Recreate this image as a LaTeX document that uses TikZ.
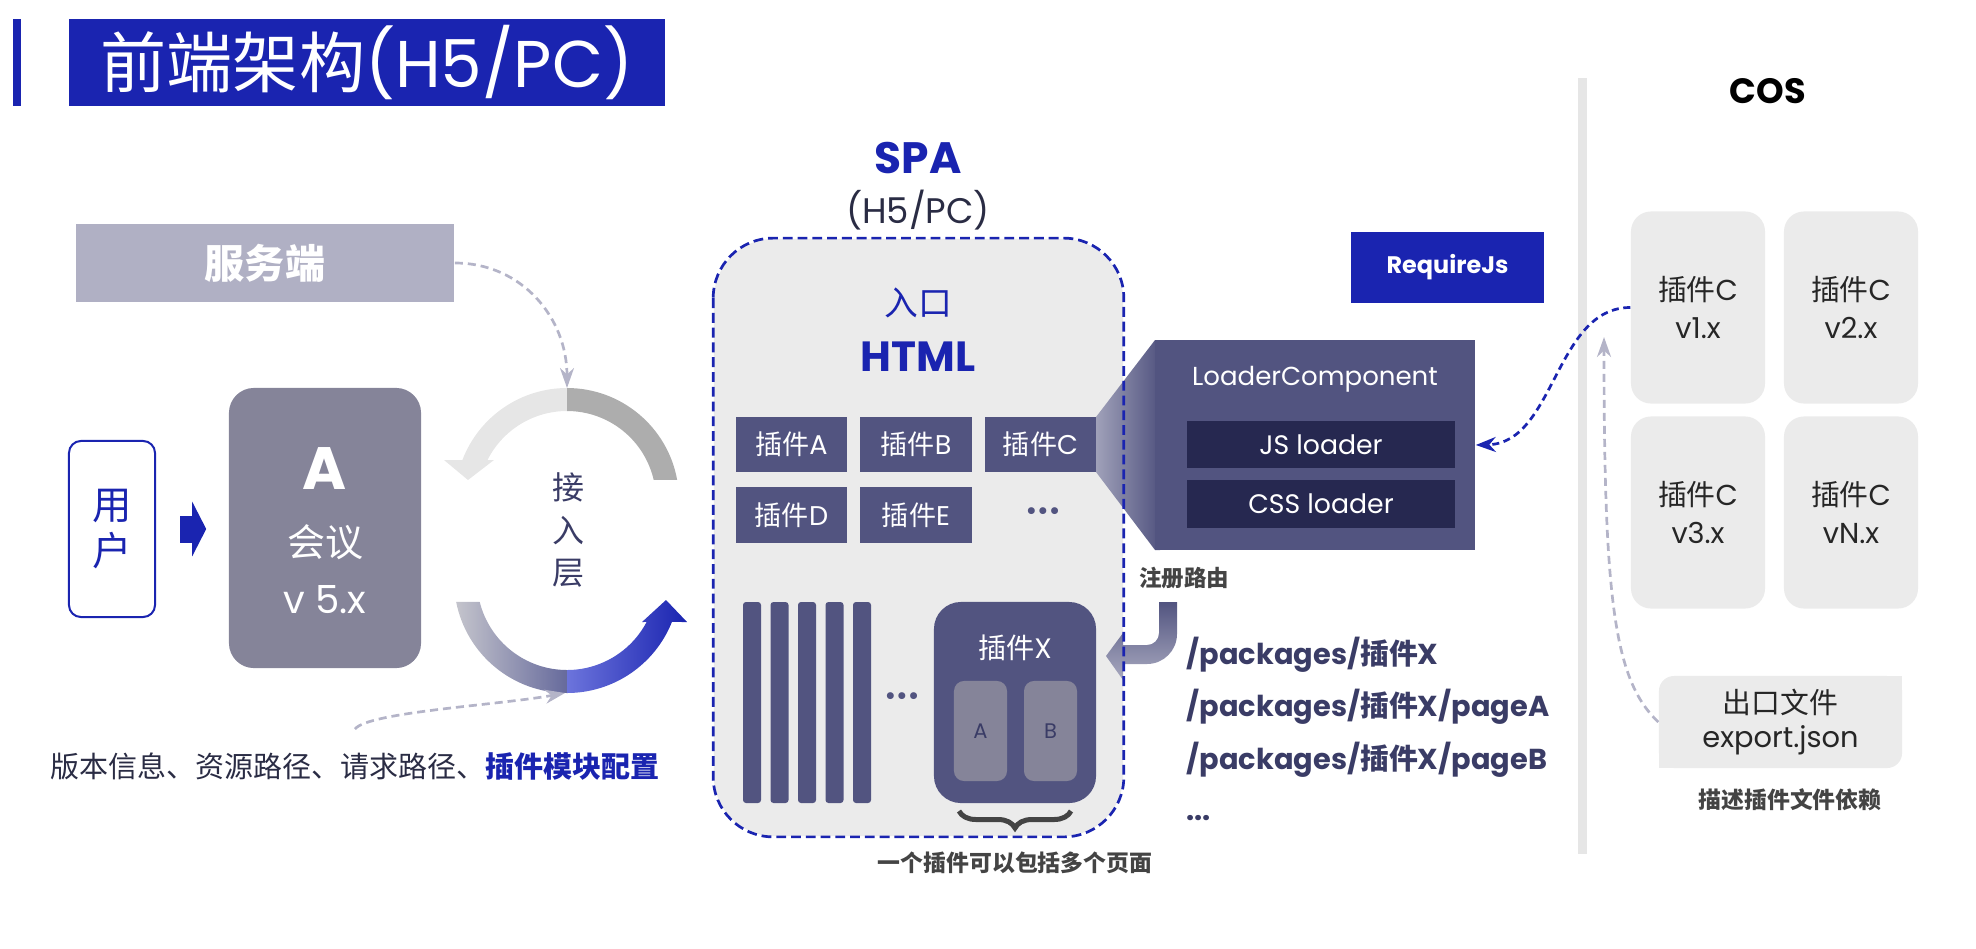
\documentclass[tikz,border=0pt]{standalone}
\usepackage{fontspec}
\setmainfont{Poppins}
\newfontfamily\cjk{Noto Sans CJK SC}
\usetikzlibrary{arrows.meta,decorations.pathreplacing}
\definecolor{brandblue}{HTML}{1A24B0}
\definecolor{slate}{HTML}{525480}
\definecolor{greyslate}{HTML}{858499}
\definecolor{serverbg}{HTML}{B0B0C4}
\definecolor{spabg}{HTML}{EBEBEB}
\definecolor{loaderdark}{HTML}{262850}
\definecolor{navytext}{HTML}{3A3C66}
\definecolor{darktext}{HTML}{2A2C44}
\definecolor{lightdash}{HTML}{B4B4C8}
\definecolor{notegray}{HTML}{444444}
\definecolor{cyclight}{HTML}{E6E6E6}
\definecolor{cycdark}{HTML}{ADADAD}
\definecolor{cycfrom}{HTML}{C4C4CC}
\definecolor{cycto}{HTML}{666A9C}
\definecolor{bluefrom}{HTML}{6C74DC}
\definecolor{divider}{HTML}{E6E6E6}
\newcommand\zh[1]{{\cjk #1}}
\newcommand\fsz[2]{\fontsize{#1}{#2}\selectfont}

\begin{document}
\begin{tikzpicture}[x=0.01cm, y=-0.01cm,
    plugin/.style={fill=slate, text=white, minimum width=1.11cm, minimum height=0.55cm, inner sep=0, font=\fsz{7.7}{9}},
    page/.style={fill=greyslate, rounded corners=0.1cm, minimum width=0.53cm, minimum height=1cm, inner sep=0, text=navytext, font=\fsz{6}{7}},
    loaderrow/.style={fill=loaderdark, text=white, minimum width=2.68cm, minimum height=0.47cm, inner sep=0, font=\fsz{7.6}{9}},
    cosbox/.style={fill=spabg, rounded corners=0.2cm, minimum width=1.34cm, minimum height=1.92cm, inner sep=0, align=center, text=black!85, font=\fsz{8.2}{10.8}},
    route/.style={anchor=west, inner sep=0, text=navytext, font=\bfseries\fsz{8.2}{10}},
    note/.style={text=notegray, font=\cjk\bfseries\fsz{6.5}{8}},
    greydash/.style={lightdash, line width=0.027cm, dash pattern=on 2.3pt off 1.4pt, -{Stealth[length=0.2cm, width=0.14cm]}},
    bluedash/.style={brandblue, line width=0.027cm, dash pattern=on 2pt off 1.3pt, -{Stealth[length=0.2cm, width=0.15cm]}}]
    \useasboundingbox (0,0) rectangle (1976,948);

    % Title
    \fill[brandblue] (13,19) rectangle (21,106);
    \node[fill=brandblue, minimum width=5.96cm, minimum height=0.87cm, inner sep=0, text=white, font=\fsz{18.8}{22}] (title) at (367,62.5) {\zh{前端架构}(H5/PC)};

    % Left side
    \node[fill=serverbg, minimum width=3.78cm, minimum height=0.78cm, inner sep=0, text=white, font=\cjk\bfseries\fsz{11.4}{13}] (server) at (265,263) {服务端};
    \node[draw=brandblue, line width=0.02cm, rounded corners=0.12cm, fill=white, minimum width=0.86cm, minimum height=1.76cm, inner sep=0, align=center, text=brandblue, font=\cjk\fsz{11.2}{13}] (user) at (112,529) {用\\户};
    \node[fill=greyslate, rounded corners=0.25cm, minimum width=1.92cm, minimum height=2.8cm] (meet) at (325,528) {};
    \node[text=white, font=\bfseries\fsz{17}{20}] (meetA) at (325,469) {A};
    \node[text=white, font=\cjk\fsz{10.8}{13}] (meetname) at (325,542) {会议};
    \node[text=white, font=\fsz{11}{13}] (meetver) at (325,600) {v 5.x};
    \draw[brandblue, line width=0.27cm, shorten <=0.24cm, shorten >=0.22cm, -{Triangle[length=0.14cm, width=0.54cm]}] (user.east) -- (meet.west |- user.east);

    % Access layer cycle
    \begin{scope}[shift={(567,500)}]
        \fill[cyclight] (270:112) arc[start angle=270, end angle=200.9, radius=112] -- (-123,-40) -- (-99,-20) -- (-73,-40) -- (206.7:89) arc[start angle=206.7, end angle=270, radius=89] -- cycle;
        \fill[cycdark] (270:112) arc[start angle=270, end angle=349.7, radius=112] -- (347:89) arc[start angle=347, end angle=270, radius=89] -- cycle;
    \end{scope}
    \begin{scope}[shift={(567,580)}]
        \shade[left color=cycfrom, right color=cycto] (168.8:113) arc[start angle=168.8, end angle=90, radius=113] -- (90:90) arc[start angle=90, end angle=165.9, radius=90] -- cycle;
        \shade[left color=bluefrom, right color=brandblue] (90:113) arc[start angle=90, end angle=21.8, radius=113] -- (120,42) -- (99,20) -- (75,42) -- (27.8:90) arc[start angle=27.8, end angle=90, radius=90] -- cycle;
    \end{scope}
    \coordinate (cyctop) at (567,388);
    \coordinate (cycbot) at (565,693);
    \node[align=center, text=navytext, font=\cjk\fsz{9.1}{12.1}] (access) at (568,530) {接\\入\\层};

    \node[text=darktext, font=\cjk\fsz{8.25}{10}] (info) at (355,766) {版本信息、资源路径、请求路径、\textcolor{brandblue}{\bfseries 插件模块配置}};
    \coordinate (infotop) at (355,729);

    \draw[greydash] (server.east) .. controls (522,263) and (567,318) .. (cyctop);
    \draw[greydash] (infotop) .. controls (368,712) and (500,705) .. (cycbot);

    % SPA
    \node[text=brandblue, font=\bfseries\fsz{12.5}{15}] (spa) at (918,158) {SPA};
    \node[text=darktext, font=\fsz{10.1}{12}] (spasub) at (918,210) {(H5/PC)};
    \node[fill=spabg, rounded corners=0.6cm, minimum width=4.09cm, minimum height=5.97cm, inner sep=0] (spabox) at (918.5,537.5) {};
    \node[text=brandblue, font=\cjk\fsz{9.6}{11}] (entry) at (918,303) {入口};
    \node[text=brandblue, font=\bfseries\fsz{12}{14}] (html) at (918,357) {HTML};

    \node[plugin] (pa) at (791.5,444.5) {\zh{插件}A};
    \node[plugin] (pb) at (916,444.5) {\zh{插件}B};
    \node[plugin] (pc) at (1040.5,444.5) {\zh{插件}C};
    \node[plugin] (pd) at (791.5,515) {\zh{插件}D};
    \node[plugin] (pe) at (916,515) {\zh{插件}E};
    \node[text=slate, font=\fsz{8}{9}] (pmore) at (1043,514) {•••};

    \foreach \x in {743,770.5,798,825.5,853}
        \fill[slate, rounded corners=0.03cm] (\x,602) rectangle ++(18,201);
    \node[text=slate, font=\fsz{8}{9}] (barmore) at (902,699) {•••};

    \node[fill=slate, rounded corners=0.27cm, minimum width=1.62cm, minimum height=2.01cm] (px) at (1015,702.5) {};
    \node[text=white, font=\fsz{8}{10}] (pxname) at (1015,648) {\zh{插件}X};
    \node[page] (pgA) at (980.5,731) {A};
    \node[page] (pgB) at (1050.5,731) {B};
    \draw[notegray, line width=0.05cm, decorate, decoration={brace, amplitude=0.17cm}] (1071,811) -- (959,811);
    \node[note] (pagenote) at (1015,863) {一个插件可以包括多个页面};

    % Loader
    \shade[left color=slate!55, right color=slate] (1096,417) -- (1155,340) -- (1160,340) -- (1160,550) -- (1155,550) -- (1096,472) -- cycle;
    \node[fill=slate, minimum width=3.2cm, minimum height=2.1cm, inner sep=0] (loader) at (1315,445) {};
    \node[text=white, font=\fsz{7.4}{9}] (loadername) at (1315,379) {LoaderComponent};
    \node[loaderrow] (jsl) at (1321,444.5) {JS loader};
    \node[loaderrow] (cssl) at (1321,504) {CSS loader};
    \node[fill=brandblue, text=white, font=\bfseries\fsz{6.8}{8}, minimum width=1.93cm, minimum height=0.71cm, inner sep=0] (requirejs) at (1447.5,267.5) {RequireJs};

    % Routes
    \node[note, font=\cjk\bfseries\fsz{6.4}{8}] (register) at (1184,578) {注册路由};
    \shade[top color=slate, bottom color=slate!50] (1159,602) -- (1177,602) -- (1177,634) arc[start angle=0, end angle=90, radius=30] -- (1123,664) -- (1123,680) -- (1106,656) -- (1123,633) -- (1123,645) -- (1147,645) arc[start angle=90, end angle=0, radius=12] -- cycle;
    \draw[brandblue, line width=0.027cm, dash pattern=on 2.8pt off 1.4pt, rounded corners=0.6cm] (spabox.north west) rectangle (spabox.south east);
    \node[route] (r1) at (1186,655) {/packages/\zh{插件}X};
    \node[route] (r2) at (1186,707) {/packages/\zh{插件}X/pageA};
    \node[route] (r3) at (1186,760) {/packages/\zh{插件}X/pageB};
    \node[route] (r4) at (1186,818) {...};

    % COS
    \fill[divider] (1578,78) rectangle (1587,854);
    \node[text=black, font=\bfseries\fsz{10}{12}] (cos) at (1768,91) {COS};
    \node[cosbox] (cos1) at (1698,307.5) {\zh{插件}C\\v1.x};
    \node[cosbox] (cos2) at (1851,307.5) {\zh{插件}C\\v2.x};
    \node[cosbox] (cos3) at (1698,512.5) {\zh{插件}C\\v3.x};
    \node[cosbox] (cos4) at (1851,512.5) {\zh{插件}C\\vN.x};
    \node[fill=spabg, rounded corners=0.15cm, minimum width=2.43cm, minimum height=0.92cm, inner sep=0] (export) at (1780.5,722) {};
    \fill[spabg] (1882,676) rectangle (1902,696);
    \fill[spabg] (1659,748) rectangle (1679,768);
    \node[align=center, text=black!85, font=\fsz{8.2}{9.4}] (exporttext) at (export) {\zh{出口文件}\\export.json};
    \node[note] (exportnote) at (1790,800) {描述插件文件依赖};
    \coordinate (cosin) at (1604,337);

    % Links
    \draw[bluedash] (cos1.west) .. controls (1555,307.5) and (1555,443) .. (loader.east);
    \draw[greydash] (export.west) .. controls (1614,680) and (1604,600) .. (cosin);
\end{tikzpicture}
\end{document}
